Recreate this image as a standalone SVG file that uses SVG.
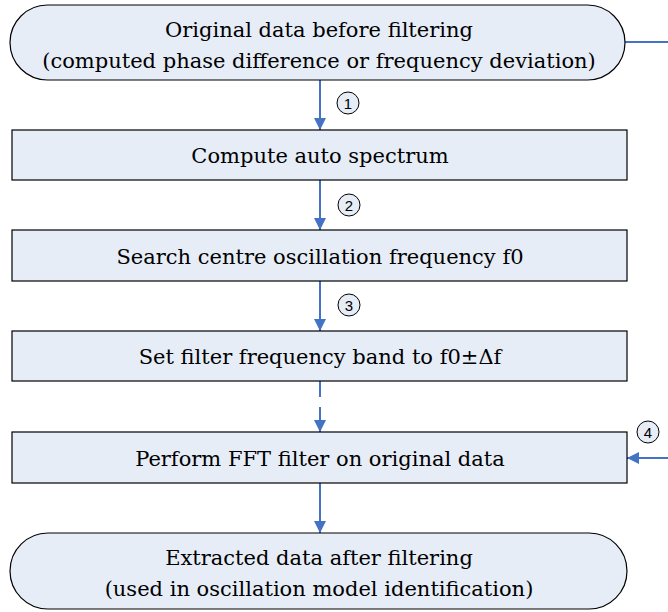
<svg xmlns="http://www.w3.org/2000/svg" width="668" height="612" viewBox="0 0 668 612">
  <defs>
    <marker id="arrow" markerWidth="13" markerHeight="12" refX="12" refY="6" orient="auto" markerUnits="userSpaceOnUse">
      <path d="M0,0 L12,6 L0,12 Z" fill="#4472C4"/>
    </marker>
    <style>
      .box { fill: #E6EDF7; stroke: #000; stroke-width: 1.2; }
      .lbl { font-family: 'DejaVu Serif', 'Liberation Serif', serif; font-size: 21px; fill: #000; text-anchor: middle; }
      .edge { stroke: #4472C4; stroke-width: 2; fill: none; }
      .num circle { fill: #E6EDF7; stroke: #000; stroke-width: 1; }
      .num text { font-family: 'Liberation Sans', 'DejaVu Sans', sans-serif; font-size: 15px; fill: #000; text-anchor: middle; }
    </style>
  </defs>
  <rect width="668" height="612" fill="#fff"/>

  <!-- connectors -->
  <g id="connectors">
    <line class="edge" x1="320" y1="80" x2="320" y2="130" marker-end="url(#arrow)"/>
    <line class="edge" x1="320" y1="180" x2="320" y2="230" marker-end="url(#arrow)"/>
    <line class="edge" x1="320" y1="281" x2="320" y2="331" marker-end="url(#arrow)"/>
    <line class="edge" x1="320" y1="381" x2="320" y2="397"/>
    <line class="edge" x1="320" y1="407" x2="320" y2="432" marker-end="url(#arrow)"/>
    <line class="edge" x1="320" y1="483" x2="320" y2="533" marker-end="url(#arrow)"/>
    <line class="edge" x1="625" y1="42" x2="668" y2="42"/>
    <line class="edge" x1="668" y1="458" x2="627" y2="458" marker-end="url(#arrow)"/>
    <g class="num">
      <circle cx="348" cy="103" r="11"/><text x="348" y="108.5">1</text>
      <circle cx="349" cy="205" r="11"/><text x="349" y="210.5">2</text>
      <circle cx="349" cy="305" r="11"/><text x="349" y="310.5">3</text>
      <circle cx="648" cy="432" r="11"/><text x="648" y="437.5">4</text>
    </g>
  </g>

  <g id="start">
    <rect class="box" x="10" y="5" width="615" height="75" rx="37.5" ry="37.5"/>
    <text class="lbl" x="319" y="37">Original data before filtering</text>
    <text class="lbl" x="319" y="68">(computed phase difference or frequency deviation)</text>
  </g>

  <g id="spectrum">
    <rect class="box" x="12" y="130" width="615" height="50"/>
    <text class="lbl" x="320" y="163">Compute auto spectrum</text>
  </g>

  <g id="search">
    <rect class="box" x="12" y="230" width="615" height="51"/>
    <text class="lbl" x="320" y="264">Search centre oscillation frequency f0</text>
  </g>

  <g id="band">
    <rect class="box" x="12" y="331" width="615" height="50"/>
    <text class="lbl" x="320" y="364">Set filter frequency band to f0±Δf</text>
  </g>

  <g id="fft">
    <rect class="box" x="12" y="432" width="615" height="51"/>
    <text class="lbl" x="320" y="466">Perform FFT filter on original data</text>
  </g>

  <g id="end">
    <rect class="box" x="10" y="533" width="617" height="76" rx="38" ry="38"/>
    <text class="lbl" x="319" y="565">Extracted data after filtering</text>
    <text class="lbl" x="319" y="596">(used in oscillation model identification)</text>
  </g>
</svg>
